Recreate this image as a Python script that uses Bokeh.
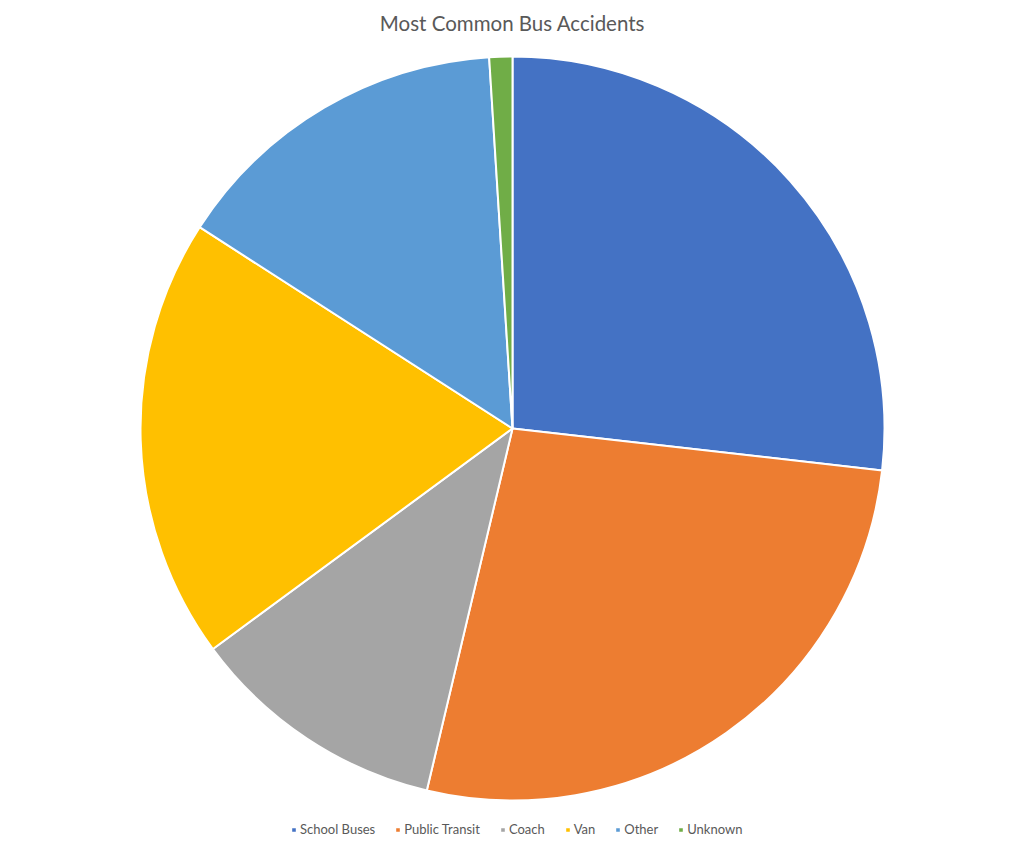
import math
from bokeh.plotting import figure
from bokeh.models import ColumnDataSource, Legend, LegendItem, Range1d
from bokeh.embed import file_html
from bokeh.resources import INLINE

categories = ["School Buses", "Public Transit", "Coach", "Van", "Other", "Unknown"]
values = [26.8, 26.9, 11.2, 19.2, 14.9, 1.0]
colors = ["#4472C4", "#ED7D31", "#A5A5A5", "#FFC000", "#5B9BD5", "#70AD47"]
title_text = "Most Common Bus Accidents"

W, H = 1008, 837
total = sum(values)
starts, ends = [], []
cum = 0.0
for v in values:
    starts.append(math.pi / 2 - 2 * math.pi * cum / total)
    cum += v
    ends.append(math.pi / 2 - 2 * math.pi * cum / total)

src = ColumnDataSource(dict(cat=categories, val=values, color=colors, start=starts, end=ends))

p = figure(width=W, height=H, output_backend="svg", toolbar_location=None,
           x_range=Range1d(0, W), y_range=Range1d(0, H), min_border=0,
           x_axis_type=None, y_axis_type=None)
p.grid.visible = False
p.outline_line_color = None
p.background_fill_color = "white"
p.border_fill_color = "white"

cx, cy, r = 512, H - 428, 372
rend = p.wedge(x=cx, y=cy, radius=r, start_angle="start", end_angle="end",
               direction="clock", fill_color="color", line_color="white",
               line_width=2, source=src)

p.text(x=[512], y=[H - 22], text=[title_text], text_align="center",
       text_baseline="middle", text_font_size="20.5px", text_color="#595959",
       text_font={"value": "Lato"})

items = [LegendItem(label=c, renderers=[rend], index=i) for i, c in enumerate(categories)]
legend = Legend(items=items, orientation="horizontal", location=(290, 0),
                glyph_width=7, glyph_height=7, label_standoff=3, spacing=19,
                padding=0, margin=0, border_line_color=None,
                background_fill_alpha=0, label_text_font="Lato",
                label_text_font_size="13px", label_text_color="#595959",
                label_height=14)
p.add_layout(legend)

open("out.html", "w").write(file_html(p, INLINE))
